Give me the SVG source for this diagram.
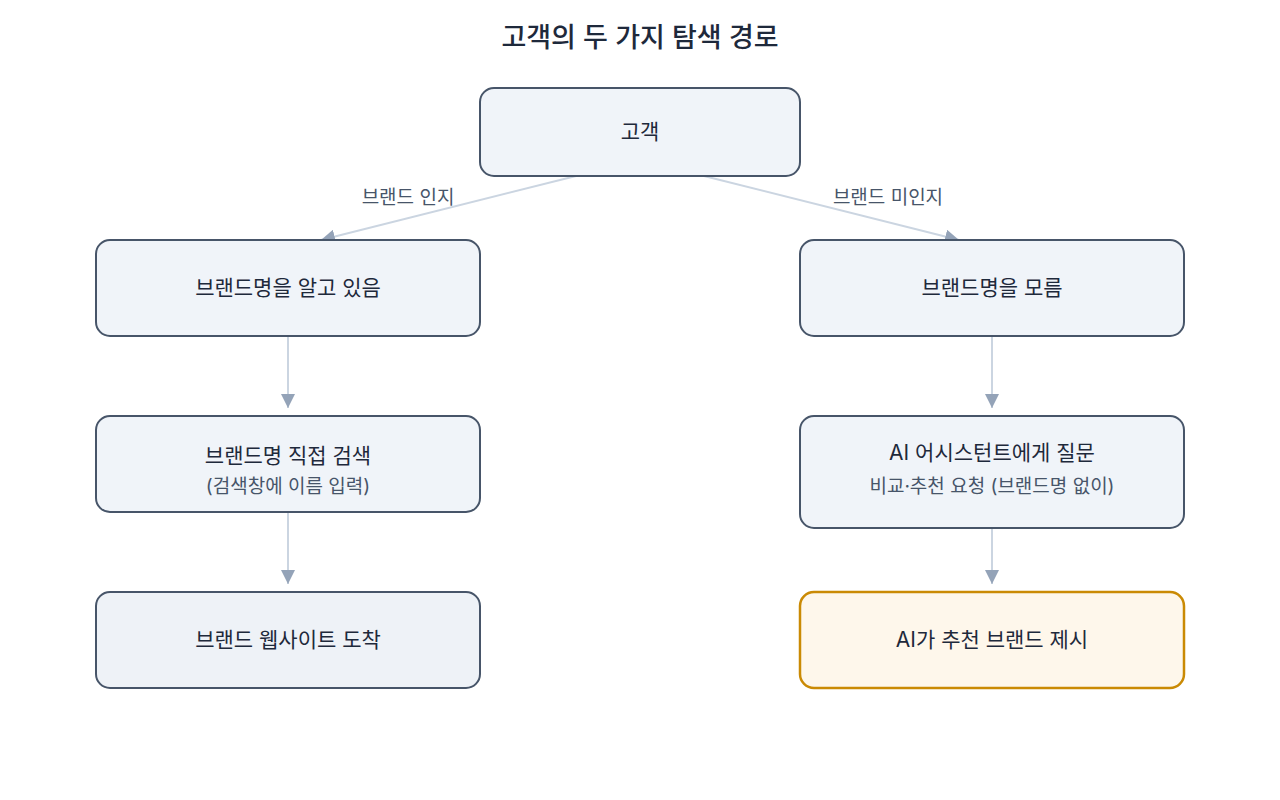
<svg xmlns="http://www.w3.org/2000/svg" width="1280" height="800" viewBox="0 0 1280 800">
<defs>
<marker id="arr" viewBox="0 0 14 14" refX="14" refY="7" markerWidth="14" markerHeight="14" markerUnits="userSpaceOnUse" orient="auto">
<path d="M0,0 L14,7 L0,14 Z" fill="#94a3b8"/>
</marker>
<style>
text{font-family:Inter,"Noto Sans CJK KR",sans-serif;text-anchor:middle}
.title{font-size:27px;font-weight:500;fill:#1e293b}
.node rect{fill:#f0f4f9;stroke:#475569;stroke-width:2}
.node text.m{font-size:21px;font-weight:400;fill:#1e293b}
.node text.s{font-size:19px;fill:#475569}
.hl rect{fill:#fef7eb;stroke:#ca8a04;stroke-width:2.5}
.edge line{stroke:#cbd5e1;stroke-width:2;marker-end:url(#arr)}
.lbl{font-size:19px;fill:#475569}
</style>
</defs>
<rect width="1280" height="800" fill="#ffffff"/>
<text class="title" x="640" y="47">고객의 두 가지 탐색 경로</text>
<g id="connectors" class="edge">
<line x1="576" y1="176" x2="321" y2="240"/>
<line x1="704" y1="176" x2="959" y2="240"/>
<line x1="288" y1="336" x2="288" y2="408"/>
<line x1="288" y1="512" x2="288" y2="584"/>
<line x1="992" y1="336" x2="992" y2="408"/>
<line x1="992" y1="528" x2="992" y2="584"/>
<text class="lbl" x="408" y="204">브랜드 인지</text>
<text class="lbl" x="888" y="204">브랜드 미인지</text>
</g>
<g id="n-customer" class="node">
<rect x="480" y="88" width="320" height="88" rx="14"/>
<text class="m" x="640" y="139">고객</text>
</g>
<g id="n-know" class="node">
<rect x="96" y="240" width="384" height="96" rx="14"/>
<text class="m" x="288" y="295">브랜드명을 알고 있음</text>
</g>
<g id="n-unknown" class="node">
<rect x="800" y="240" width="384" height="96" rx="14"/>
<text class="m" x="992" y="295">브랜드명을 모름</text>
</g>
<g id="n-search" class="node">
<rect x="96" y="416" width="384" height="96" rx="14"/>
<text class="m" x="288" y="463">브랜드명 직접 검색</text>
<text class="s" x="288" y="493">(검색창에 이름 입력)</text>
</g>
<g id="n-ask" class="node">
<rect x="800" y="416" width="384" height="112" rx="14"/>
<text class="m" x="992" y="460">AI 어시스턴트에게 질문</text>
<text class="s" x="992" y="493">비교·추천 요청 (브랜드명 없이)</text>
</g>
<g id="n-site" class="node">
<rect x="96" y="592" width="384" height="96" rx="14" style="fill:#eef2f7"/>
<text class="m" x="288" y="647">브랜드 웹사이트 도착</text>
</g>
<g id="n-recommend" class="node hl">
<rect x="800" y="592" width="384" height="96" rx="14"/>
<text class="m" x="992" y="647">AI가 추천 브랜드 제시</text>
</g>
</svg>
